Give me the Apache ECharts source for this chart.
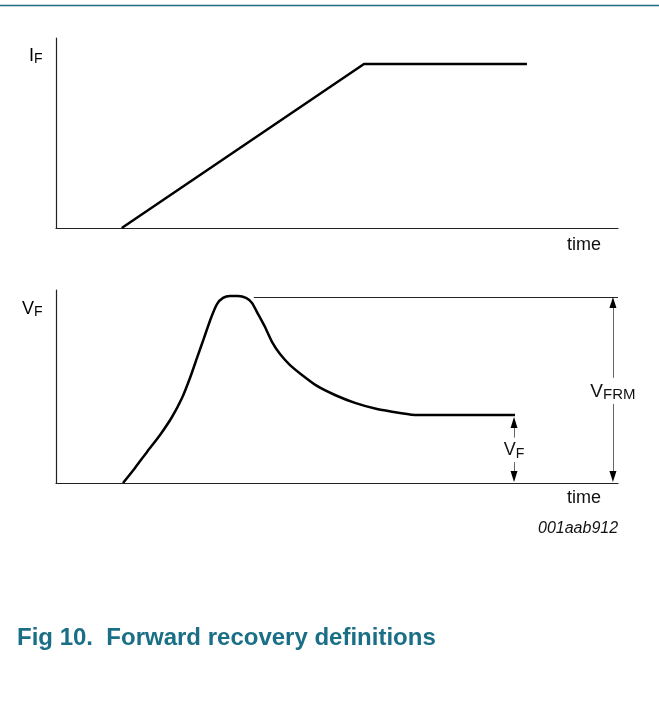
<!DOCTYPE html>
<html>
<head>
<meta charset="utf-8">
<script src="https://cdn.jsdelivr.net/npm/echarts@6/dist/echarts.min.js"></script>
<style>
html,body{margin:0;padding:0;background:#fff;}
#c{width:659px;height:717px;}
</style>
</head>
<body>
<div id="c"></div>
<script>
// Top panel: forward current I_F vs time (arbitrary units 0..100)
const ifTime = [11.7, 54.8, 83.8];
const ifValue = [0, 86.3, 86.3];

// Bottom panel: forward voltage V_F vs time
const vfTime = [11.92, 14.06, 16.19, 18.51, 20.64, 22.42, 23.84, 25.09, 26.33, 27.58, 28.65, 29.72, 30.96, 32.38, 33.81, 34.88, 35.94, 37.19, 38.43, 39.86, 41.64, 43.77, 46.44, 49.64, 53.20, 57.12, 61.21, 64.23, 81.67];
const vfValue = [0, 7.8, 16.1, 24.9, 34.2, 44.0, 54.4, 64.8, 75.1, 85.5, 92.7, 95.9, 96.9, 96.9, 95.9, 93.3, 87.6, 80.8, 73.1, 66.8, 61.1, 56.0, 50.3, 45.6, 41.5, 38.3, 36.3, 35.2, 35.2];

// Annotation values
const vfrmPeak = 96.4;       // V_FRM level
const vfrmLineStart = 35.2;  // time where peak reference line starts
const vfrmArrowTime = 99.1;
const vfSteady = 34.2;       // tip of the V_F arrow (just below steady-state line)
const vfArrowTime = 81.5;

const fontFam = '"Liberation Sans", Arial, sans-serif';
const subRich = {
  m: {fontSize: 18, fontFamily: fontFam, color: '#111'},
  s: {fontSize: 14, fontFamily: fontFam, color: '#111', padding: [7, 0, 0, 0]}
};
const subRichBig = {
  m: {fontSize: 19, fontFamily: fontFam, color: '#111'},
  s: {fontSize: 15, fontFamily: fontFam, color: '#111', padding: [7, 0, 0, 0]}
};

const ifData = ifTime.map((t, i) => [t, ifValue[i]]);
const vfData = vfTime.map((t, i) => [t, vfValue[i]]);

const chart = echarts.init(document.getElementById('c'), null, {renderer: 'canvas'});

const axisCommon = {
  axisTick: {show: false},
  axisLabel: {show: false},
  splitLine: {show: false},
  axisLine: {show: true, onZero: false, lineStyle: {color: '#222', width: 1.2}}
};

const arrowLine = {color: '#666', width: 1, type: 'solid'};
const upHead = (t, v) => ({coord: [t, v], symbol: 'triangle', symbolSize: [7, 11], symbolOffset: [0, '50%'], itemStyle: {color: '#000'}, label: {show: false}});
const downHead = (t, v) => ({coord: [t, v], symbol: 'triangle', symbolSize: [7, 11], symbolRotate: 180, symbolOffset: [0, '-50%'], itemStyle: {color: '#000'}, label: {show: false}});

chart.setOption({
  animation: false,
  backgroundColor: '#fff',
  grid: [
    {left: 56, top: 38, width: 562, height: 190},
    {left: 56, top: 290, width: 562, height: 193}
  ],
  xAxis: [
    Object.assign({type: 'value', gridIndex: 0, min: 0, max: 100}, axisCommon),
    Object.assign({type: 'value', gridIndex: 1, min: 0, max: 100}, axisCommon)
  ],
  yAxis: [
    Object.assign({type: 'value', gridIndex: 0, min: 0, max: 100}, axisCommon),
    Object.assign({type: 'value', gridIndex: 1, min: 0, max: 100}, axisCommon)
  ],
  series: [
    {
      type: 'line', xAxisIndex: 0, yAxisIndex: 0,
      data: ifData, showSymbol: false, symbol: 'none',
      lineStyle: {color: '#000', width: 2.5}
    },
    {
      type: 'line', xAxisIndex: 1, yAxisIndex: 1,
      data: vfData, showSymbol: false, symbol: 'none', smooth: 0.2, clip: false,
      lineStyle: {color: '#000', width: 2.5},
      markLine: {
        silent: true,
        label: {show: false},
        symbol: ['none', 'none'],
        lineStyle: arrowLine,
        data: [
          [{coord: [vfrmLineStart, vfrmPeak], lineStyle: {color: '#222', width: 1}}, {coord: [100, vfrmPeak]}],
          [{coord: [vfrmArrowTime, 54.5]}, {coord: [vfrmArrowTime, vfrmPeak - 3]}],
          [{coord: [vfrmArrowTime, 41]}, {coord: [vfrmArrowTime, 3]}],
          [{coord: [vfArrowTime, 23.5]}, {coord: [vfArrowTime, vfSteady - 3]}],
          [{coord: [vfArrowTime, 10.8]}, {coord: [vfArrowTime, 3]}]
        ]
      },
      markPoint: {
        silent: true,
        symbol: 'circle', symbolSize: 0,
        data: [
          {coord: [vfrmArrowTime, 47.5], label: {show: true, position: 'inside', formatter: '{m|V}{s|FRM}', rich: subRichBig}},
          {coord: [vfArrowTime, 17], label: {show: true, position: 'inside', formatter: '{m|V}{s|F}', rich: subRich}},
          upHead(vfrmArrowTime, vfrmPeak),
          downHead(vfrmArrowTime, 0.5),
          upHead(vfArrowTime, vfSteady),
          downHead(vfArrowTime, 0.5)
        ]
      }
    }
  ],
  graphic: [
    {type: 'line', shape: {x1: 0, y1: 5.5, x2: 659, y2: 5.5}, style: {stroke: '#1f6c82', lineWidth: 1.5}},
    {type: 'text', left: 29, top: 47, style: {text: '{m|I}{s|F}', rich: subRich}},
    {type: 'text', left: 22, top: 300, style: {text: '{m|V}{s|F}', rich: subRich}},
    {type: 'text', left: 567, top: 236, style: {text: 'time', font: '18px ' + fontFam, fill: '#111'}},
    {type: 'text', left: 567, top: 489, style: {text: 'time', font: '18px ' + fontFam, fill: '#111'}},
    {type: 'text', left: 538, top: 521, style: {text: '001aab912', font: 'italic 16px ' + fontFam, fill: '#111'}},
    {type: 'text', left: 17, top: 626, style: {text: 'Fig 10.  Forward recovery definitions', font: 'bold 24px ' + fontFam, fill: '#1a6f86'}}
  ]
});
</script>
</body>
</html>
